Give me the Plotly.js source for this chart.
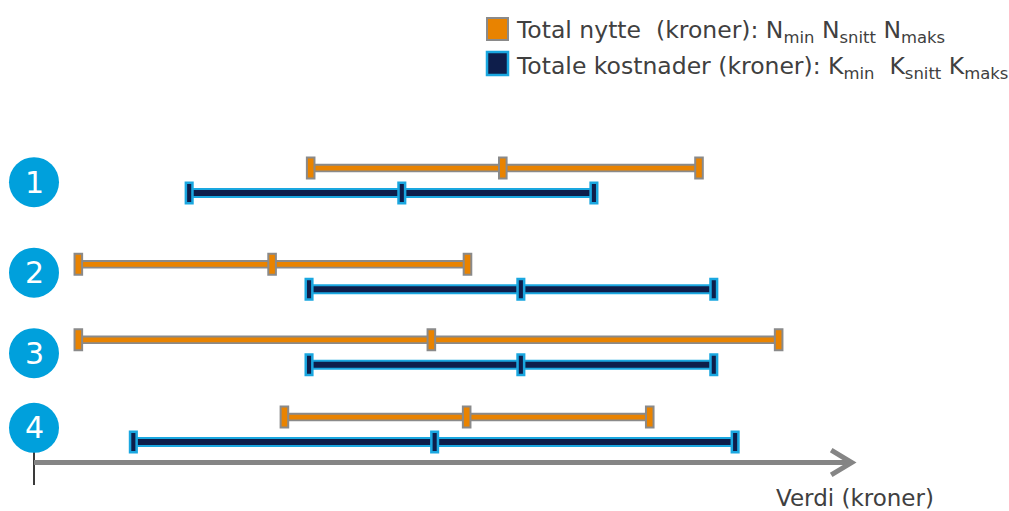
<!DOCTYPE html>
<html>
<head>
<meta charset="utf-8">
<script src="https://cdn.plot.ly/plotly-3.0.1.min.js"></script>
<style>
  html, body { margin: 0; padding: 0; background: #ffffff; }
  #chart { width: 1009px; height: 511px; }
</style>
</head>
<body>
<div id="chart"></div>
<script>
// Alternatives 1-4: range of total benefit (nytte) and total cost (kostnader)
const alternatives = ['1', '2', '3', '4'];
const nytteMin   = [33.7,  5.4,  5.4, 30.5];
const nytteSnitt = [57.1, 29.0, 48.4, 52.7];
const nytteMaks  = [81.0, 52.8, 90.7, 75.0];
const kostMin    = [18.9, 33.5, 33.5, 12.1];
const kostSnitt  = [44.8, 59.3, 59.3, 48.8];
const kostMaks   = [68.2, 82.8, 82.8, 85.4];

// Legend and axis texts
const legendNytte = 'Total nytte\u00a0 (kroner): N<sub>min</sub> N<sub>snitt</sub> N<sub>maks</sub>';
const legendKost  = 'Totale kostnader (kroner): K<sub>min</sub>  K<sub>snitt</sub> K<sub>maks</sub>';
const axisLabel   = 'Verdi (kroner)';

// ---- styling / layout ----
const W = 1009, H = 511;
const FONT = 'DejaVu Sans, Verdana, sans-serif';
const TEXT = '#404040';
const ORANGE = '#E98300', ORANGE_EDGE = '#8A8A8A';
const NAVY = '#0E1E4B', NAVY_EDGE = '#1AA7E0';
const BADGE = '#00A0DC';
const AXIS_GREY = '#858585';

const rowY   = [1.0, 2.16, 3.07, 4.0];      // vertical centre of each alternative
const badgeY = [1.02, 2.11, 3.08, 3.98];    // numbered circles
const OFFSET = 0.15;                          // benefit above, cost below
const axisY = 4.398;

const px = x => x / W;
const py = y => 1 - y / H;

// Bar segments as one trace per series, rows separated by gaps
function segTrace(mins, maxs, dy, color, width) {
  const x = [], y = [];
  mins.forEach((m, i) => {
    x.push(m, maxs[i], null);
    y.push(rowY[i] + dy, rowY[i] + dy, null);
  });
  return {
    type: 'scatter', mode: 'lines', x, y,
    line: { color, width },
    hoverinfo: 'skip', showlegend: false
  };
}

const traces = [
  segTrace(nytteMin, nytteMaks, -OFFSET, ORANGE_EDGE, 8.5),
  segTrace(nytteMin, nytteMaks, -OFFSET, ORANGE, 4.8),
  segTrace(kostMin, kostMaks, OFFSET, NAVY_EDGE, 10),
  segTrace(kostMin, kostMaks, OFFSET, NAVY, 6)
];

const shapes = [];

// End and average markers as small rectangles anchored at the data values
function cap(xv, yv, fill, edge, lw, hw, hh) {
  shapes.push({
    type: 'rect', xref: 'x', yref: 'y',
    xsizemode: 'pixel', xanchor: xv, x0: -hw, x1: hw,
    ysizemode: 'pixel', yanchor: yv, y0: -hh, y1: hh,
    fillcolor: fill, line: { color: edge, width: lw }
  });
}
alternatives.forEach((a, i) => {
  [nytteMin[i], nytteSnitt[i], nytteMaks[i]].forEach(v =>
    cap(v, rowY[i] - OFFSET, ORANGE, ORANGE_EDGE, 2, 3.8, 10.5));
  [kostMin[i], kostSnitt[i], kostMaks[i]].forEach(v =>
    cap(v, rowY[i] + OFFSET, NAVY, NAVY_EDGE, 2.5, 3.3, 10.3));
});

// Value axis: origin tick, shaft and open arrow head
shapes.push({
  type: 'line', xref: 'x', yref: 'y', x0: 0, x1: 0, y0: 4.27, y1: 4.67,
  line: { color: '#3a3a3a', width: 2 }, layer: 'below'
});
shapes.push({
  type: 'line', xref: 'x', yref: 'y', x0: 0, x1: 99.3, y0: axisY, y1: axisY,
  line: { color: AXIS_GREY, width: 5 }
});
shapes.push({
  type: 'path', xref: 'x', yref: 'y',
  path: `M 97.1 ${axisY - 0.15} L 99.6 ${axisY} L 97.1 ${axisY + 0.15}`,
  line: { color: AXIS_GREY, width: 5 }
});

// Numbered circles
badgeY.forEach(b => {
  shapes.push({
    type: 'circle', xref: 'x', yref: 'y',
    xsizemode: 'pixel', xanchor: 0, x0: -25, x1: 25,
    ysizemode: 'pixel', yanchor: b, y0: -25, y1: 25,
    fillcolor: BADGE, line: { width: 0 }
  });
});

// Legend swatches
shapes.push({
  type: 'rect', xref: 'paper', yref: 'paper',
  x0: px(487), x1: px(508), y0: py(18), y1: py(40),
  fillcolor: ORANGE, line: { color: ORANGE_EDGE, width: 2 }
});
shapes.push({
  type: 'rect', xref: 'paper', yref: 'paper',
  x0: px(487), x1: px(508), y0: py(52), y1: py(75),
  fillcolor: NAVY, line: { color: NAVY_EDGE, width: 2.5 }
});

const annotations = alternatives.map((a, i) => ({
  x: 0, y: badgeY[i], xref: 'x', yref: 'y', text: a, showarrow: false,
  xanchor: 'center', yanchor: 'middle',
  font: { family: FONT, size: 30, color: '#ffffff' }
}));
annotations.push({
  xref: 'paper', yref: 'paper', x: px(514), y: py(31), text: legendNytte,
  showarrow: false, xanchor: 'left', yanchor: 'middle',
  font: { family: FONT, size: 23.5, color: TEXT }
});
annotations.push({
  xref: 'paper', yref: 'paper', x: px(514), y: py(67), text: legendKost,
  showarrow: false, xanchor: 'left', yanchor: 'middle',
  font: { family: FONT, size: 23.5, color: TEXT }
});
annotations.push({
  xref: 'x', yref: 'y', x: 100, y: 4.83, text: axisLabel,
  showarrow: false, xanchor: 'center', yanchor: 'middle',
  font: { family: FONT, size: 23, color: TEXT }
});

const layout = {
  width: W, height: H,
  margin: { l: 0, r: 0, t: 0, b: 0, pad: 0 },
  paper_bgcolor: '#ffffff', plot_bgcolor: '#ffffff',
  showlegend: false, hovermode: false,
  xaxis: { range: [-34 / 8.21, (W - 34) / 8.21], visible: false, fixedrange: true },
  yaxis: { range: [4.982, -1.175], visible: false, fixedrange: true },
  shapes, annotations
};

Plotly.newPlot('chart', traces, layout, { displayModeBar: false, staticPlot: true });
</script>
</body>
</html>
